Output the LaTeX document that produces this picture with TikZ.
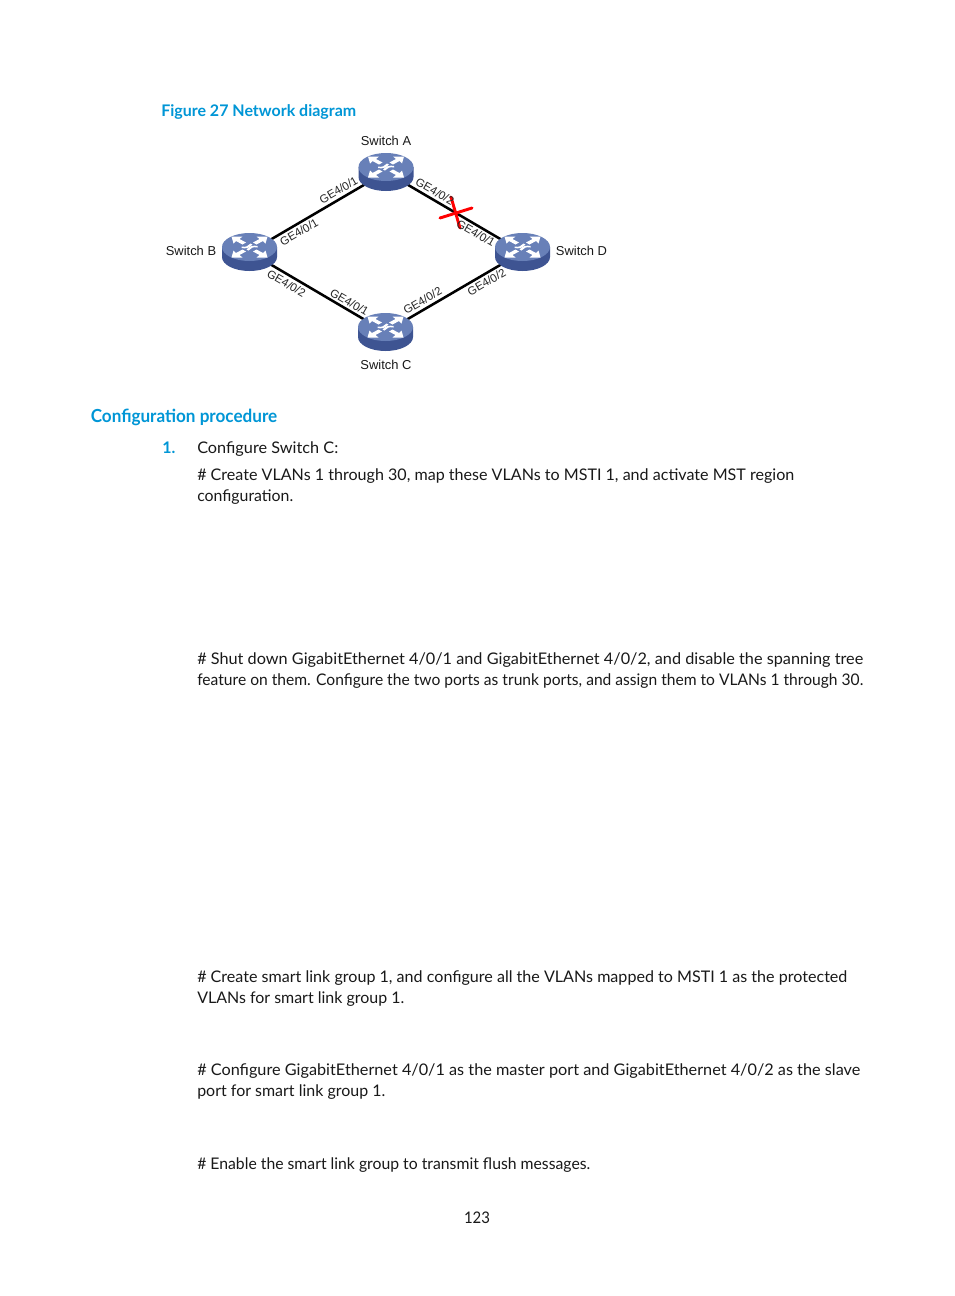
\documentclass[tikz,border=0pt]{standalone}
\usepackage{fontspec}
\usepackage{graphicx}
\setmainfont{Lato}
\newfontfamily\lblfont{Liberation Sans}
\usetikzlibrary{shapes.geometric}
\definecolor{hpblue}{RGB}{0,150,214}
\definecolor{swtop}{RGB}{104,128,184}
\definecolor{swside}{RGB}{62,84,146}
\newcommand{\fitline}[2]{\resizebox{\dimexpr #1pt*3/4\relax}{\height}{#2}}
\tikzset{
  x=0.75pt,y=-0.75pt,
  swnode/.style={ellipse,minimum width=30pt,minimum height=18pt,inner sep=0pt},
  link/.style={line width=1.9pt,black},
  cross/.style={line width=2.2pt,red,line cap=round},
  swlabel/.style={font=\lblfont\fontsize{9.7}{11}\selectfont,text=black!90,inner sep=0pt},
  portlabel/.style={font=\lblfont\fontsize{8.6}{10}\selectfont,text=black!85,inner sep=0pt},
  heading/.style={font=\fontsize{13.5}{16}\selectfont\bfseries,text=hpblue,anchor=west,inner sep=0pt},
  figtitle/.style={font=\fontsize{12}{14}\selectfont\bfseries,text=hpblue,anchor=west,inner sep=0pt},
  para/.style={font=\fontsize{12}{15.75}\selectfont,text=black!90,anchor=west,inner sep=0pt,align=left},
  switchicon/.pic={
    \fill[swside] (-27.5,0) -- (-27.5,10) arc[start angle=180,end angle=0,x radius=27.5,y radius=14] -- (27.5,0) -- cycle;
    \fill[swtop] (0,0) ellipse[x radius=27.5,y radius=14];
    \foreach \sx in {-1,1}{\foreach \sy in {-1,1}{
      \fill[white,xscale=\sx,yscale=\sy]
        (-18,-10.5) -- (-7,-10.5) -- (-10,-8) -- (-3.5,-4.5) -- (-7,-2.5) -- (-13.5,-6) -- (-16,-3.5) -- cycle;
    }}
    \fill[white] (-8,-0.5) .. controls (-4,0.5) and (-1,-1) .. (1,-3.5) -- (3,-2.5) .. controls (0,1) and (-4,2) .. (-8,1) -- cycle;
    \fill[white] (8,0.5) .. controls (4,-0.5) and (1,1) .. (-1,3.5) -- (-3,2.5) .. controls (0,-1) and (4,-2) .. (8,-1) -- cycle;
  }
}
\begin{document}
\begin{tikzpicture}
\useasboundingbox (0,0) rectangle (954,1296);
\fill[white] (0,0) rectangle (954,1296);
% switches (anchors for the links)
\node[swnode] (A) at (386,172) {};
\node[swnode] (B) at (249.5,252) {};
\node[swnode] (C) at (385.5,332) {};
\node[swnode] (D) at (522.5,252) {};
\draw[link] (A) -- (B);
\draw[link] (A) -- (D);
\draw[link] (B) -- (C);
\draw[link] (C) -- (D);
\pic at (386,167) {switchicon};
\pic at (249.5,247) {switchicon};
\pic at (385.5,327) {switchicon};
\pic at (522.5,247) {switchicon};
% red cross
\coordinate (x1) at (451,197);
\coordinate (x2) at (460,228);
\coordinate (x3) at (440,218);
\coordinate (x4) at (472,208);
\draw[cross] (x1) -- (x2);
\draw[cross] (x3) -- (x4);
% labels
\node[swlabel] (la) at (386,141) {Switch A};
\node[swlabel] (lb) at (191,251) {Switch B};
\node[swlabel] (lc) at (386,364.5) {Switch C};
\node[swlabel] (ld) at (581.5,251) {Switch D};
\node[portlabel,rotate=30] (p1) at (338.5,190) {GE4/0/1};
\node[portlabel,rotate=30] (p2) at (299,232) {GE4/0/1};
\node[portlabel,rotate=-30] (p3) at (435,191.5) {GE4/0/2};
\node[portlabel,rotate=-30] (p4) at (476,233) {GE4/0/1};
\node[portlabel,rotate=-30] (p5) at (286.5,283.5) {GE4/0/2};
\node[portlabel,rotate=-30] (p6) at (349.5,302) {GE4/0/1};
\node[portlabel,rotate=30] (p7) at (422.5,300.5) {GE4/0/2};
\node[portlabel,rotate=30] (p8) at (486.5,282) {GE4/0/2};
% text
\node[figtitle] (t1) at (161,111.5) {\fitline{195}{Figure 27 Network diagram}};
\node[heading] (t2) at (90.5,417) {\fitline{186.5}{Configuration procedure}};
\node[font=\fontsize{12}{15}\selectfont\bfseries,text=hpblue,anchor=west,inner sep=0pt] (n1) at (162,448) {1.};
\node[para] (t3) at (197,449.5) {\fitline{141}{Configure Switch C:}};
\node[para] (t4) at (197,487) {\fitline{597}{\# Create VLANs 1 through 30, map these VLANs to MSTI 1, and activate MST region}\\\fitline{96}{configuration.}};
\node[para] (t5) at (197,671) {\fitline{666}{\# Shut down GigabitEthernet 4/0/1 and GigabitEthernet 4/0/2, and disable the spanning tree}\\\fitline{666}{feature on them. Configure the two ports as trunk ports, and assign them to VLANs 1 through 30.}};
\node[para] (t6) at (197,988.5) {\fitline{650}{\# Create smart link group 1, and configure all the VLANs mapped to MSTI 1 as the protected}\\\fitline{207}{VLANs for smart link group 1.}};
\node[para] (t7) at (197,1081.5) {\fitline{663}{\# Configure GigabitEthernet 4/0/1 as the master port and GigabitEthernet 4/0/2 as the slave}\\\fitline{188}{port for smart link group 1.}};
\node[para] (t8) at (197,1165.5) {\fitline{393}{\# Enable the smart link group to transmit flush messages.}};
\node[font=\fontsize{12}{15}\selectfont,text=black!90,inner sep=0pt] (pg) at (477,1218) {\fitline{26}{123}};
\end{tikzpicture}
\end{document}
